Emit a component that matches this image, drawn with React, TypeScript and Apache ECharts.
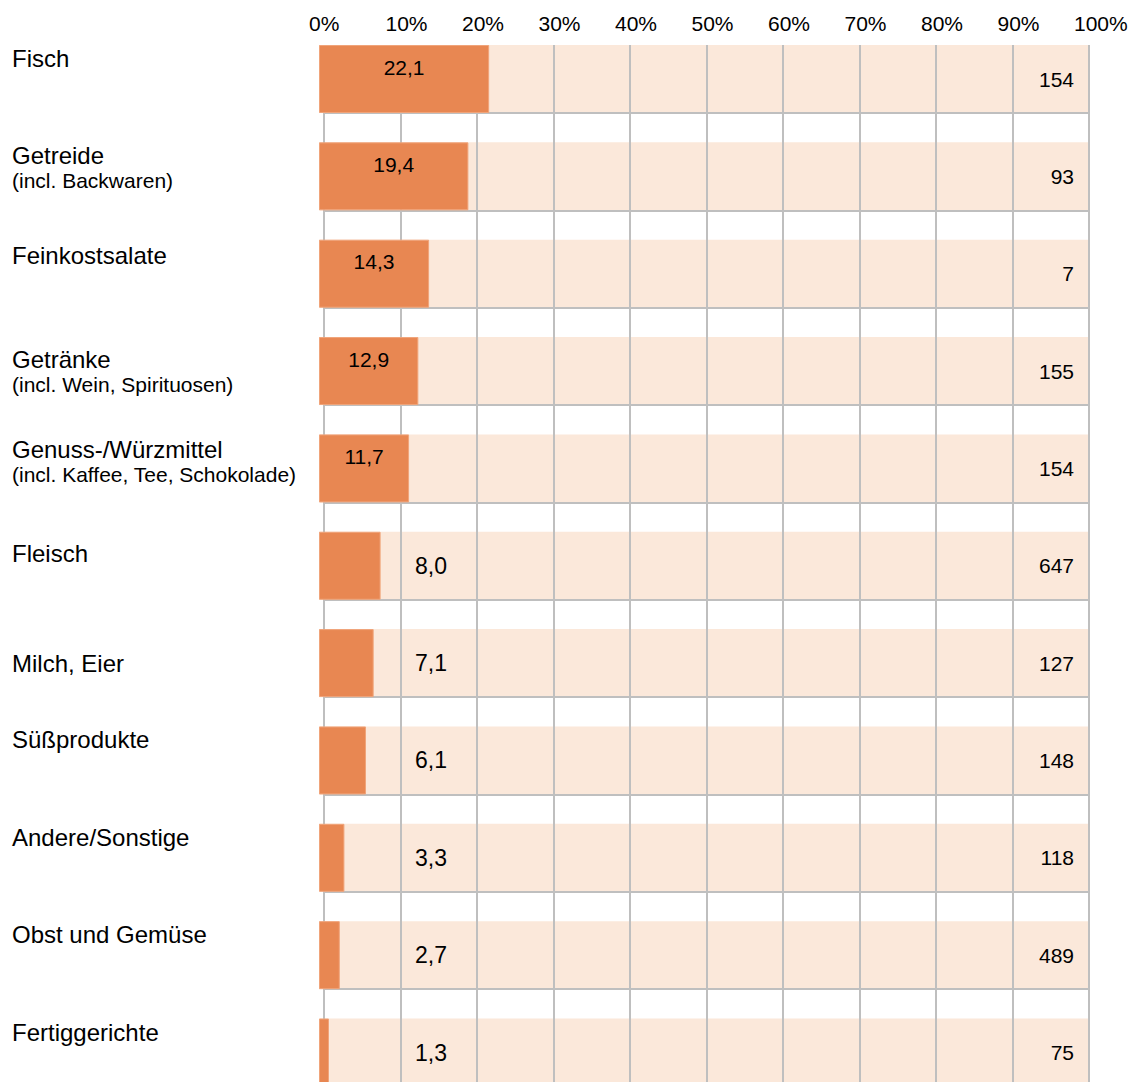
import React, { useEffect, useRef } from "react";
import * as echarts from "echarts";

const CATEGORIES = [
  "Fisch",
  "Getreide",
  "Feinkostsalate",
  "Getränke",
  "Genuss-/Würzmittel",
  "Fleisch",
  "Milch, Eier",
  "Süßprodukte",
  "Andere/Sonstige",
  "Obst und Gemüse",
  "Fertiggerichte",
];
const SUBTITLES = [
  "",
  "(incl. Backwaren)",
  "",
  "(incl. Wein, Spirituosen)",
  "(incl. Kaffee, Tee, Schokolade)",
  "",
  "",
  "",
  "",
  "",
  "",
];
const SHARES = [22.1, 19.4, 14.3, 12.9, 11.7, 8.0, 7.1, 6.1, 3.3, 2.7, 1.3];
const COUNTS = [154, 93, 7, 155, 154, 647, 127, 148, 118, 489, 75];
const FULL = 100;
const TICK_STEP = 10;

// layout / style tweaks (not data)
const LABEL_SHIFT: Record<string, number> = {
  Feinkostsalate: 2,
  "Getränke": 9,
  "Genuss-/Würzmittel": 2,
  Fleisch: 8,
  "Milch, Eier": 21,
};

const FONT = '"Liberation Sans", Arial, Helvetica, sans-serif';
const ORANGE = "#E88752";
const PEACH = "#FBE8DA";
const GRID_COLOR = "#BFBFBF";
const PITCH = 97.35;
const BAR_W = 68;

const fmt = (v: number) => v.toFixed(1).replace(".", ",");

export default function App() {
  const ref = useRef<HTMLDivElement>(null);
  useEffect(() => {
    if (!ref.current) return;
    const chart = echarts.init(ref.current, null, { renderer: "svg" });

    const yData = CATEGORIES.map((c) => {
      const s = LABEL_SHIFT[c] || 0;
      const up = 8 - s;
      const padding = up >= 0 ? [0, 0, 2 * up, 0] : [-2 * up, 0, 0, 0];
      return { value: c, textStyle: { padding, align: "left" } };
    });

    const barData = SHARES.map((v) => ({
      value: v,
      label:
        v >= 10
          ? {
              show: true,
              position: "inside",
              offset: [0, -12],
              fontSize: 21,
              color: "#000",
              fontFamily: FONT,
              formatter: () => fmt(v),
            }
          : {
              show: true,
              position: "insideLeft",
              distance: 96,
              fontSize: 23,
              color: "#000",
              fontFamily: FONT,
              formatter: () => fmt(v),
            },
    }));

    const bandTop = 45;
    const centerFirst = bandTop + BAR_W / 2;
    const noBounds = { containLabel: false, outerBoundsMode: "none" };

    chart.setOption({
      animation: false,
      backgroundColor: "#fff",
      grid: [
        {
          left: 319,
          width: 770,
          top: centerFirst - PITCH / 2,
          height: PITCH * CATEGORIES.length,
          ...noBounds,
        },
        { left: 324, width: 765, top: bandTop, height: 1100, ...noBounds },
        { left: 324, width: 765, top: bandTop + BAR_W, height: PITCH * 10, ...noBounds },
        { left: 309, width: 765, top: bandTop, height: 10, ...noBounds },
      ],
      xAxis: [
        { gridIndex: 0, type: "value", min: 0, max: FULL, show: false },
        {
          gridIndex: 1,
          type: "value",
          min: 0,
          max: FULL,
          interval: TICK_STEP,
          axisLine: { show: false },
          axisTick: { show: false },
          axisLabel: { show: false },
          splitLine: { show: true, lineStyle: { color: GRID_COLOR, width: 2 } },
        },
        { gridIndex: 2, type: "value", min: 0, max: FULL, show: false },
        {
          gridIndex: 3,
          type: "value",
          min: 0,
          max: FULL,
          interval: TICK_STEP,
          position: "top",
          axisLine: { show: false },
          axisTick: { show: false },
          splitLine: { show: false },
          axisLabel: {
            formatter: "{value}%",
            fontSize: 21,
            color: "#000",
            fontFamily: FONT,
            align: "left",
            margin: 11,
          },
        },
      ],
      yAxis: [
        {
          gridIndex: 0,
          type: "category",
          inverse: true,
          data: yData,
          axisLine: { show: false },
          axisTick: { show: false },
          splitLine: { show: false },
          axisLabel: {
            align: "left",
            margin: 307,
            interval: 0,
            fontFamily: FONT,
            color: "#000",
            formatter: (val: string) => {
              const i = CATEGORIES.indexOf(val);
              const sub = SUBTITLES[i] || "\u00a0";
              return `{a|${val}}\n{b|${sub}}`;
            },
            rich: {
              a: { fontSize: 24, lineHeight: 25, fontFamily: FONT, color: "#000", align: "left" },
              b: { fontSize: 21, lineHeight: 25, fontFamily: FONT, color: "#000", align: "left" },
            },
          },
        },
        { gridIndex: 1, type: "value", show: false, min: 0, max: 1 },
        {
          gridIndex: 2,
          type: "value",
          inverse: true,
          min: 0,
          max: 10,
          interval: 1,
          axisLine: { show: false },
          axisTick: { show: false },
          axisLabel: { show: false },
          splitLine: { show: true, lineStyle: { color: GRID_COLOR, width: 2 } },
        },
        { gridIndex: 3, type: "value", show: false, min: 0, max: 1 },
      ],
      series: [
        {
          type: "bar",
          xAxisIndex: 0,
          yAxisIndex: 0,
          z: -1,
          barWidth: BAR_W,
          barGap: "-100%",
          silent: true,
          itemStyle: { color: PEACH },
          data: COUNTS.map(() => FULL),
          label: {
            show: true,
            position: "insideRight",
            distance: 15,
            fontSize: 21,
            color: "#000",
            fontFamily: FONT,
            formatter: (p: any) => String(COUNTS[p.dataIndex]),
          },
        },
        {
          type: "bar",
          xAxisIndex: 0,
          yAxisIndex: 0,
          z: 3,
          barWidth: BAR_W,
          barGap: "-100%",
          itemStyle: { color: ORANGE, borderColor: "#F0A47A", borderWidth: 1 },
          data: barData,
        },
      ],
    });
    return () => chart.dispose();
  }, []);
  return (
    <div
      ref={ref}
      style={{ position: "absolute", left: 0, top: 0, width: 1133, height: 1082 }}
    />
  );
}
